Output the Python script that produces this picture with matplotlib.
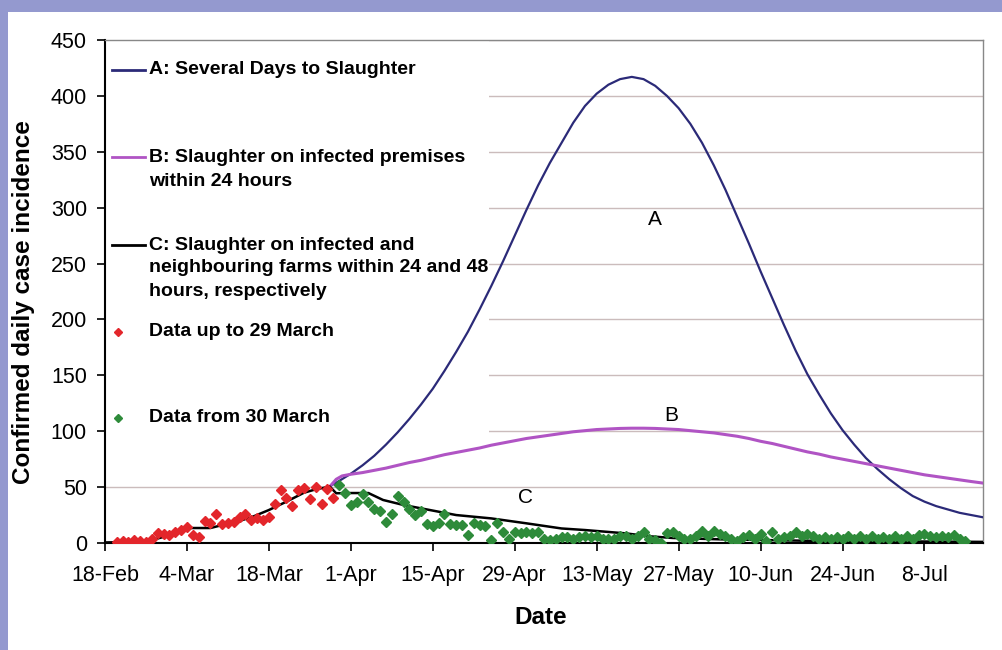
import numpy as np
import matplotlib.pyplot as plt
from matplotlib.patches import Rectangle

# day 0 = 18 Feb 2001
tick_days = list(range(0, 141, 14))
tick_labels = ['18-Feb', '4-Mar', '18-Mar', '1-Apr', '15-Apr', '29-Apr',
               '13-May', '27-May', '10-Jun', '24-Jun', '8-Jul']

# model A: several days to slaughter
a_days = [38.5, 40, 42, 44, 46, 48, 50, 52, 54, 56, 58, 60, 62, 64, 66, 68, 70, 72,
          74, 76, 78, 80, 82, 84, 86, 88, 90, 92, 94, 96, 98, 100, 102, 104, 106,
          108, 110, 112, 114, 116, 118, 120, 122, 124, 126, 128, 130, 132, 134,
          136, 138, 140, 142, 144, 146, 148, 150]
a_vals = [51, 55.5, 62, 69.5, 78, 88, 99, 111, 124, 138, 154, 171, 189, 209, 230,
          252, 275, 298, 320, 340, 358, 376, 391, 402, 410, 415, 417, 415, 409, 400,
          389, 375, 358, 338, 316, 292, 268, 243, 219, 195, 172, 151, 133, 116, 101,
          88, 76, 66, 57, 49, 42, 37, 33, 30, 27, 25, 23]

# model B: slaughter on infected premises within 24 h
b_days = [38.5, 39.5, 40.5, 42, 44, 46, 48, 50, 52, 54, 56, 58, 60, 62, 64, 66, 68,
          70, 72, 74, 76, 78, 80, 82, 84, 86, 88, 90, 92, 94, 96, 98, 100, 102, 104,
          106, 108, 110, 112, 114, 116, 118, 120, 122, 124, 126, 128, 130, 132, 134,
          136, 138, 140, 142, 144, 146, 148, 150]
b_vals = [51, 57, 60, 61.5, 63, 65, 67, 69.5, 72, 74, 76.5, 79, 81, 83, 85, 87.5,
          89.5, 91.5, 93.5, 95, 96.5, 98, 99.5, 100.5, 101.5, 102, 102.5, 102.7,
          102.7, 102.5, 102, 101.5, 100.5, 99.5, 98.5, 97, 95.5, 93.5, 91, 89, 86.5,
          84, 81.5, 79.5, 77, 75, 73, 71, 69, 67, 65, 63, 61, 59.5, 58, 56.5, 55, 53.6]

# model C: slaughter on infected and neighbouring farms
c_days = [0, 6, 7, 9, 11, 13, 14, 18, 20, 22.5, 25, 28, 31, 34, 36, 38.4, 39.5, 42,
          45, 47.5, 51, 54, 57, 60, 66, 72, 78, 82, 89, 93, 97, 105, 112, 120, 135, 150]
c_vals = [0.5, 1, 2.5, 4, 7, 12, 13.4, 13.4, 16, 19, 23, 29.5, 37, 45, 48, 50.5, 44.5,
          44.7, 44.7, 38.5, 34, 31, 28, 25, 22, 17.6, 13, 11.6, 8.6, 6, 4.5, 3.3,
          2.7, 2, 1.5, 1]

# observed cases, 20 Feb - 29 Mar
red_start = 2
red_vals = [1, 2, 1, 3, 2, 1, 4, 9, 8, 7, 10, 12, 14, 7, 5, 20, 18, 26, 17, 18, 19,
            23, 26, 21, 22, 21, 23, 35, 47, 40, 33, 47, 49, 39, 50, 35, 48, 40]

# observed cases from 30 Mar
green_start = 40
green_vals = [52, 45, 34, 37, 44, 37, 30, 29, 19, 26, 42, 37, 30, 25, 29, 17, 15, 18,
              26, 17, 16,
              16, 7, 18, 16, 15, 3, 18, 10, 4, 10, 9, 10, 9, 10, 4, 3, 4, 5,
              5, 4, 5, 6, 5, 6, 4, 4, 4, 6, 6, 4, 6, 10, 4, 3, 0, 9, 10, 6, 4, 4, 6,
              11, 6, 11, 8, 6, 4, 2, 5, 7, 4, 8, 2, 10, 4,
              5, 6, 10, 6, 8, 6, 4, 5, 4, 5, 4, 6, 4, 6, 4, 6, 4, 5, 4, 6, 4, 6, 4,
              7, 8, 6, 5, 6, 5, 7, 4, 2]

red_days = np.arange(len(red_vals)) + red_start
green_days = np.arange(len(green_vals)) + green_start

col_a = '#2b2a78'
col_b = '#b054c4'
col_red = '#e3262b'
col_green = '#2e8b3a'

plt.rcParams['font.family'] = ['Liberation Sans', 'DejaVu Sans']

W, H = 1002, 650
fig = plt.figure(figsize=(W / 100, H / 100), dpi=100)
fig.patch.set_facecolor('#9499cf')
fig.add_artist(Rectangle((8 / W, 0), 1, (H - 12) / H, transform=fig.transFigure,
                         facecolor='white', edgecolor='none', zorder=-1))

L, R, T, B = 105, 983, 40, 543
ax = fig.add_axes([L / W, (H - B) / H, (R - L) / W, (B - T) / H])
ax.set_facecolor('white')

def ax_pt(px, py):
    return (px - L) / (R - L), (B - py) / (B - T)

ax.set_xlim(0, 150)
ax.set_ylim(0, 450)
ax.set_yticks(range(0, 451, 50))
ax.set_xticks(tick_days)
ax.set_xticklabels(tick_labels)
ax.yaxis.grid(True, color='#cbbcbc', lw=1)
ax.set_axisbelow(True)
ax.tick_params(axis='both', direction='out', length=6, width=1.2, labelsize=15.5,
               colors='black')
ax.tick_params(axis='y', pad=7)
ax.tick_params(axis='x', pad=10)
for s in ['left', 'bottom']:
    ax.spines[s].set_linewidth(1.5)
    ax.spines[s].set_color('black')
for s in ['top', 'right']:
    ax.spines[s].set_linewidth(1)
    ax.spines[s].set_color('#888888')

# white legend area hides the grid
x0, y0 = ax_pt(L, 440)
x1, _ = ax_pt(489, T)
ax.add_patch(Rectangle((x0, y0), x1 - x0, 1 - y0, transform=ax.transAxes,
                       facecolor='white', edgecolor='none', zorder=0.7))

ax.plot(a_days, a_vals, color=col_a, lw=1.6, zorder=3)
ax.plot(b_days, b_vals, color=col_b, lw=2.2, zorder=3)
ax.plot(c_days, c_vals, color='black', lw=1.8, zorder=3)
ax.plot(red_days, red_vals, 'D', color=col_red, ms=5.5, ls='none', zorder=4)
ax.plot(green_days, green_vals, 'D', color=col_green, ms=5.5, ls='none', zorder=4)

ax.text(94, 289, 'A', fontsize=15, ha='center', va='center')
ax.text(96.7, 114, 'B', fontsize=15, ha='center', va='center')
ax.text(71.8, 41, 'C', fontsize=15, ha='center', va='center')

# legend, drawn by hand
leg_fs = 14
def leg_line(py, color):
    xa, ya = ax_pt(112, py)
    xb, _ = ax_pt(145, py)
    ax.plot([xa, xb], [ya, ya], color=color, lw=2, transform=ax.transAxes,
            clip_on=False, zorder=5)

def leg_marker(py, color):
    xa, ya = ax_pt(118, py)
    ax.plot([xa], [ya], 'D', color=color, ms=4.5, transform=ax.transAxes,
            clip_on=False, zorder=5)

def leg_text(py, s):
    xa, ya = ax_pt(149, py)
    ax.text(xa, ya, s, transform=ax.transAxes, fontsize=leg_fs, fontweight='bold',
            ha='left', va='center', zorder=5)

leg_line(70, col_a)
leg_text(70, 'A: Several Days to Slaughter')
leg_line(157, col_b)
leg_text(158, 'B: Slaughter on infected premises')
leg_text(181, 'within 24 hours')
leg_line(245, 'black')
leg_text(245, 'C: Slaughter on infected and')
leg_text(268, 'neighbouring farms within 24 and 48')
leg_text(292, 'hours, respectively')
leg_marker(332, col_red)
leg_text(332, 'Data up to 29 March')
leg_marker(418, col_green)
leg_text(418, 'Data from 30 March')

fig.text(541 / W, 1 - 617 / H, 'Date', fontsize=17.5, fontweight='bold',
         ha='center', va='center')
fig.text(24 / W, 1 - 302 / H, 'Confirmed daily case incidence', fontsize=17.5,
         fontweight='bold', rotation=90, ha='center', va='center')

fig.savefig('out.png', dpi=100, facecolor=fig.get_facecolor())
